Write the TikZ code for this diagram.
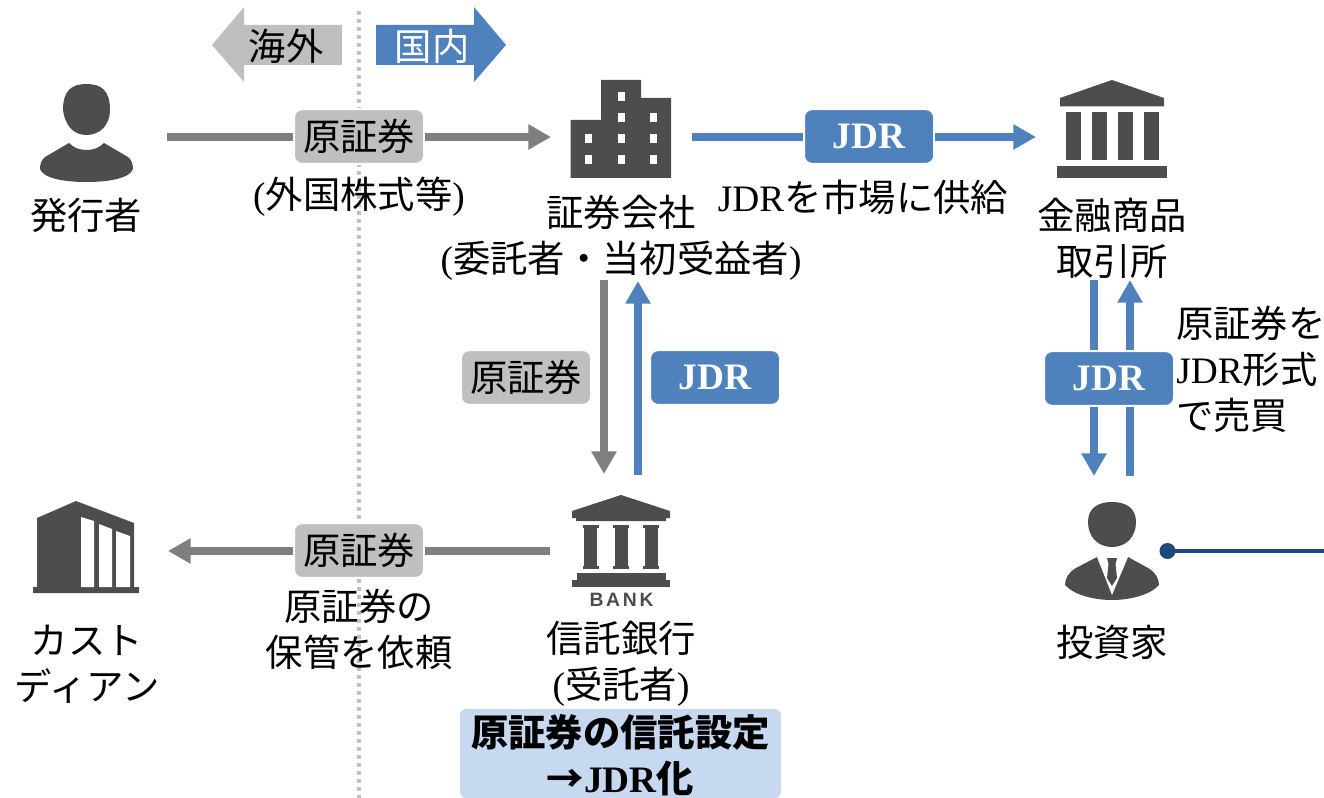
\documentclass[tikz,border=0pt]{standalone}
\usepackage{fontspec}
\setmainfont{Liberation Serif}
\newfontfamily\cjk{Noto Sans CJK JP}
\newfontfamily\banksans{Liberation Sans}
\newcommand\J[1]{{\cjk #1}}
\newcommand\fs{\fontsize{28}{34.5}\selectfont}
\usetikzlibrary{arrows.meta}
\definecolor{icon}{HTML}{4D4D4D}
\definecolor{arrgray}{HTML}{7F7F7F}
\definecolor{boxgray}{HTML}{BFBFBF}
\definecolor{myblue}{HTML}{4F81BD}
\definecolor{palebl}{HTML}{C6D9F0}
\definecolor{navy}{HTML}{1F497D}
\tikzset{
  lab/.style={inner sep=0pt,font=\fs,align=center,text=black},
  tagbox/.style={draw=white,line width=1.5pt,rounded corners=6pt,inner sep=0pt,minimum width=97.5pt,minimum height=41pt,font=\fs},
  graytag/.style={tagbox,fill=boxgray,text=black},
  bluetag/.style={tagbox,fill=myblue,text=white,font=\fs\bfseries},
  graylink/.style={draw=arrgray,line width=6pt},
  bluelink/.style={draw=myblue,line width=6pt},
  grayarrow/.style={graylink,-{Triangle[width=18pt,length=17pt]}},
  bluearrow/.style={bluelink,-{Triangle[width=18pt,length=17pt]}},
  iconfill/.style={fill=icon,draw=none}
}
\begin{document}
\begin{tikzpicture}[x=0.75pt,y=-0.75pt]
\useasboundingbox (0,0) rectangle (1324,798);
% border line
\draw[boxgray,line width=3pt,dash pattern=on 3pt off 3pt] (359,11) -- (359,798);
% region arrows
\fill[boxgray] (212,45) -- (244,7) -- (244,25) -- (342,25) -- (342,65) -- (244,65) -- (244,82) -- cycle;
\fill[myblue] (506,45) -- (474,7) -- (474,25) -- (376,25) -- (376,65) -- (474,65) -- (474,82) -- cycle;
\node[lab] (overseas) at (286,46) {\J{海外}};
\node[lab,text=white] (domestic) at (432,46) {\J{国内}};
% issuer icon
\fill[icon] (63,110) .. controls (63,90) and (72,84) .. (86.5,84) .. controls (101,84) and (110,90) .. (110,110) .. controls (110,125) and (100,135) .. (86.5,135) .. controls (73,135) and (65,125) .. (63,110) -- cycle;
\fill[icon] (69,143) .. controls (74,148) and (80,150) .. (86.5,150) .. controls (93,150) and (99,148) .. (104,143) -- (128,157) .. controls (132,160) and (133,165) .. (133,169) .. controls (130,178) and (110,182) .. (86.5,182) .. controls (63,182) and (43,178) .. (40,169) .. controls (40,165) and (41,160) .. (45,157) -- cycle;
\node[lab] (issuer) at (86,215) {\J{発行者}};
% securities firm icon
\fill[icon] (570.5,120) -- (601,120) -- (601,80) -- (641,80) -- (641,98) -- (671,98) -- (671,178) -- (570.5,178) -- cycle;
\foreach \cx/\cy in {621/97,621/118,653/118,588/139,621/139,653/139,588/160,621/160,653/160}
  \fill[white] (\cx-3.5,\cy-4.5) rectangle (\cx+3.5,\cy+4.5);
\node[lab] (firm) at (621,238) {\J{証券会社}\\(\J{委託者・当初受益者})};
% exchange icon
\fill[icon] (1112,80) -- (1164,98) -- (1164,106.5) -- (1060,106.5) -- (1060,98) -- cycle;
\foreach \cx in {1066,1092,1118,1144}
  \fill[icon] (\cx,112) rectangle (\cx+14.5,160);
\fill[icon] (1057,166) rectangle (1167,178);
\node[lab] (exchange) at (1112,238) {\J{金融商品}\\\J{取引所}};
% tag boxes
\node[graytag] (tagA) at (359,136.5) {\J{原証券}};
\node[bluetag] (tagB) at (869,136.5) {JDR};
\node[graytag] (tagC) at (526,377.5) {\J{原証券}};
\node[bluetag] (tagD) at (715,377.5) {JDR};
\node[bluetag] (tagE) at (1109,378.5) {JDR};
\node[graytag] (tagF) at (359,550.5) {\J{原証券}};
% named ends
\coordinate (a1) at (167,137);
\coordinate (a2) at (551,137);
\coordinate (b1) at (692,137);
\coordinate (b2) at (1036,137);
\coordinate (c1) at (604,280);
\coordinate (c2) at (604,474);
\coordinate (d1) at (638,475);
\coordinate (d2) at (638,281);
\coordinate (e1) at (1094,280);
\coordinate (e2) at (1094,476);
\coordinate (f1) at (1130,476);
\coordinate (f2) at (1130,280);
\coordinate (g1) at (550,551);
\coordinate (g2) at (168,551);
% connectors
\draw[graylink] (a1) -- (a1 -| tagA.west);
\draw[grayarrow] (a2 -| tagA.east) -- (a2);
\draw[bluelink] (b1) -- (b1 -| tagB.west);
\draw[bluearrow] (b2 -| tagB.east) -- (b2);
\draw[grayarrow] (c1) -- (c2);
\draw[bluearrow] (d1) -- (d2);
\draw[bluelink] (e1) -- (e1 |- tagE.north);
\draw[bluearrow] (e2 |- tagE.south) -- (e2);
\draw[bluelink] (f1) -- (f1 |- tagE.south);
\draw[bluearrow] (f2 |- tagE.north) -- (f2);
\draw[graylink] (g1) -- (g1 -| tagF.east);
\draw[grayarrow] (g2 -| tagF.west) -- (g2);
% labels
\node[lab] (foreign) at (359,197) {(\J{外国株式等})};
\node[lab] (supply) at (863,197) {JDR\J{を市場に供給}};
\node[lab,align=left,anchor=west] (trade) at (1176,369) {\J{原証券を}\\JDR\J{形式}\\\J{で売買}};
\node[lab] (custodylab) at (359,629) {\J{原証券の}\\\J{保管を依頼}};
% custodian icon
\fill[icon] (37,518) -- (76,501) -- (134,523) -- (134,587) -- (139,587) -- (139,593) -- (33,593) -- (33,587) -- (37,587) -- cycle;
\fill[white] (81,517) -- (94,521) -- (94,587) -- (81,587) -- cycle;
\fill[white] (99,524) -- (112,529) -- (112,587) -- (99,587) -- cycle;
\fill[white] (116,531) -- (130,536) -- (130,587) -- (116,587) -- cycle;
\node[lab] (custodian) at (87,664) {\J{カスト}\\\J{ディアン}};
% bank icon
\fill[icon] (621,495) -- (670,511) -- (670,518) -- (666,518) -- (666,521) -- (576,521) -- (576,518) -- (572,518) -- (572,511) -- cycle;
\foreach \cx in {590.5,621,651}{
  \fill[icon] (\cx-8,525) rectangle (\cx+8,528);
  \fill[icon] (\cx-6.5,528) rectangle (\cx+6.5,566);
  \fill[icon] (\cx-8,566) rectangle (\cx+8,569);
}
\fill[icon] (577,573) rectangle (666,580);
\fill[icon] (572,580) rectangle (670,587);
\node[inner sep=0pt,text=icon,font=\fontsize{14.5}{15}\selectfont\banksans\bfseries] (banklabel) at (621.5,600) {\addfontfeature{LetterSpace=14}BANK};
\node[lab] (bank) at (621,664) {\J{信託銀行}\\(\J{受託者})};
\node[lab,fill=palebl,rounded corners=5pt,minimum width=240.75pt,minimum height=67pt,font=\fs\bfseries] (trust) at (620.5,753.5) {\rule{0pt}{27pt}\J{原証券の信託設定}\\\J{→}JDR\J{化}};
% investor icon
\fill[icon] (1088,522) .. controls (1088,508) and (1098,502) .. (1112,502) .. controls (1126,502) and (1136,508) .. (1136,522) .. controls (1136,537) and (1126,547) .. (1112,547) .. controls (1098,547) and (1088,537) .. (1088,522) -- cycle;
\fill[icon] (1097,557) -- (1128,557) -- (1148,568) .. controls (1155,572) and (1159,578) .. (1159,585) .. controls (1150,595) and (1130,600) .. (1112,600) .. controls (1094,600) and (1074,595) .. (1065,585) .. controls (1065,578) and (1069,572) .. (1076,568) -- cycle;
\fill[white] (1097,557) -- (1128,557) -- (1112,595) -- cycle;
\fill[icon] (1107,558) -- (1117,558) -- (1115.5,564) -- (1117,578) -- (1112,586) -- (1107,578) -- (1108.5,564) -- cycle;
\node[lab] (investor) at (1112,642) {\J{投資家}};
\coordinate (edge) at (1324,551);
\node[circle,fill=navy,inner sep=0pt,minimum size=12pt] (dot) at (1167.5,551) {};
\draw[navy,line width=3pt] (dot.center) -- (edge);
\end{tikzpicture}
\end{document}
